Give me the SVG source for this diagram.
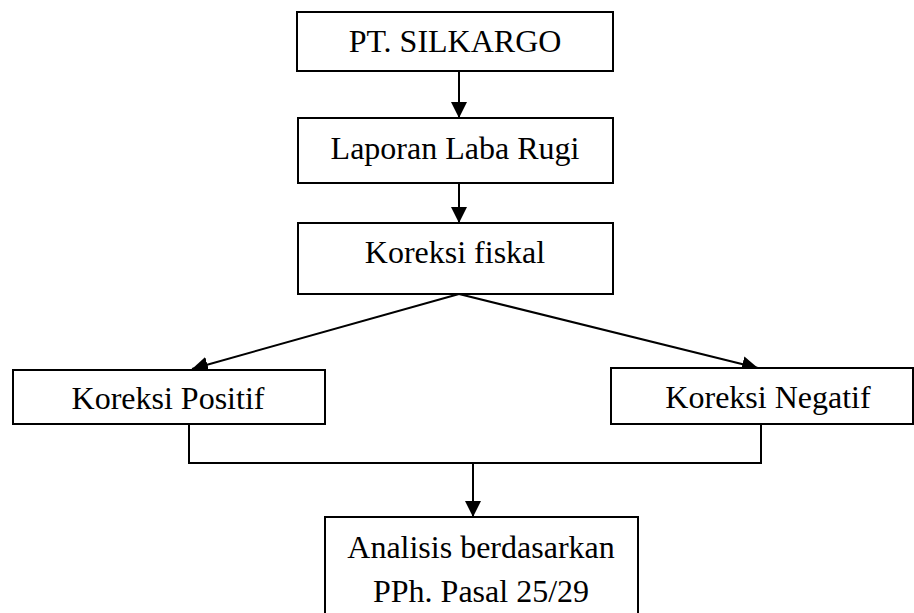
<svg xmlns="http://www.w3.org/2000/svg" width="914" height="613" viewBox="0 0 914 613">
<style>
.box{fill:#fff;stroke:#000;stroke-width:2}
.t{font-family:"Liberation Serif","Times New Roman",serif;font-size:32px;fill:#000;text-anchor:middle}
.c{fill:none;stroke:#000;stroke-width:2}
</style>
<defs>
<marker id="ah" markerUnits="userSpaceOnUse" markerWidth="17" markerHeight="17" viewBox="0 0 17 17" refX="16" refY="8.5" orient="auto">
<path d="M0,0.5 L16,8.5 L0,16.5 Z" fill="#000"/>
</marker>
</defs>
<rect width="914" height="613" fill="#fff"/>
<g id="connectors">
<line class="c" x1="459" y1="71" x2="459" y2="118" marker-end="url(#ah)"/>
<line class="c" x1="459" y1="183" x2="459" y2="223" marker-end="url(#ah)"/>
<line class="c" x1="459" y1="294" x2="192" y2="369" marker-end="url(#ah)"/>
<line class="c" x1="459" y1="294" x2="758" y2="368" marker-end="url(#ah)"/>
<polyline class="c" points="189,424 189,463 761,463 761,424"/>
<line class="c" x1="473" y1="463" x2="473" y2="517" marker-end="url(#ah)"/>
</g>
<g id="n1"><rect class="box" x="297" y="12" width="316" height="59"/><text class="t" x="455" y="52">PT. SILKARGO</text></g>
<g id="n2"><rect class="box" x="298" y="118" width="315" height="65"/><text class="t" x="455" y="159">Laporan Laba Rugi</text></g>
<g id="n3"><rect class="box" x="298" y="223" width="315" height="71"/><text class="t" x="455" y="263">Koreksi fiskal</text></g>
<g id="n4"><rect class="box" x="13" y="370" width="312" height="54"/><text class="t" x="168" y="409">Koreksi Positif</text></g>
<g id="n5"><rect class="box" x="611" y="368" width="302" height="56"/><text class="t" x="768" y="408">Koreksi Negatif</text></g>
<g id="n6"><rect class="box" x="325" y="517" width="313" height="120"/><text class="t" x="481" y="558">Analisis berdasarkan</text><text class="t" x="481" y="602">PPh. Pasal 25/29</text></g>
</svg>
